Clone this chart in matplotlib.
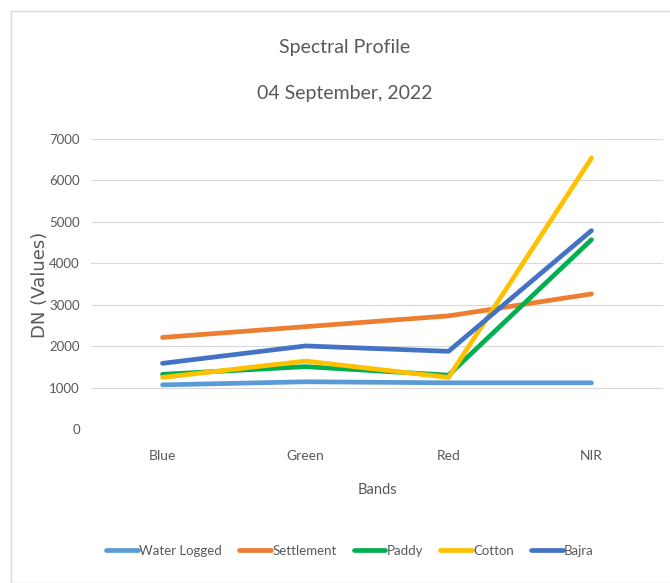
import numpy as np
import matplotlib.pyplot as plt
from matplotlib.patches import Rectangle

# Data
bands = ['Blue', 'Green', 'Red', 'NIR']
water_logged = [1065, 1140, 1115, 1115]
settlement = [2210, 2470, 2730, 3260]
paddy = [1320, 1505, 1300, 4570]
cotton = [1245, 1640, 1245, 6540]
bajra = [1585, 2005, 1875, 4790]

series = ['Water Logged', 'Settlement', 'Paddy', 'Cotton', 'Bajra']
values = [water_logged, settlement, paddy, cotton, bajra]
colors = ['#5B9BD5', '#ED7D31', '#00B050', '#FFC000', '#4472C4']

W, H = 670, 583
font = 'Lato'
grey = '#595959'

fig = plt.figure(figsize=(W/100, H/100), dpi=100)
ax = fig.add_axes([91/W, 1-429/H, (663-91)/W, (429-139)/H])

x = np.arange(len(bands))
for name, vals, c in zip(series, values, colors):
    ax.plot(x, vals, color=c, linewidth=3.4, solid_capstyle='round',
            solid_joinstyle='round', label=name)

ax.set_xlim(-0.5, 3.5)
ax.set_ylim(0, 7000)
ax.set_yticks(np.arange(0, 7001, 1000))
ax.set_xticks(x)
ax.set_xticklabels(bands)
ax.grid(axis='y', color='#D9D9D9', linewidth=0.8)
ax.set_axisbelow(True)
for s in ax.spines.values():
    s.set_visible(False)
ax.tick_params(axis='y', length=0, pad=8, labelsize=9.5, labelcolor=grey)
ax.tick_params(axis='x', length=0, pad=15, labelsize=10, labelcolor=grey)
for lab in ax.get_xticklabels() + ax.get_yticklabels():
    lab.set_family(font)

# titles and axis labels
fig.text(345/W, 1-48/H, 'Spectral Profile', ha='center', va='center',
         fontsize=14, color=grey, family=font)
fig.text(345/W, 1-93/H, '04 September, 2022', ha='center', va='center',
         fontsize=14, color=grey, family=font)
fig.text(377/W, 1-490/H, 'Bands', ha='center', va='center',
         fontsize=10.5, color=grey, family=font)
fig.text(40/W, 1-285/H, 'DN (Values)', ha='center', va='center',
         rotation=90, fontsize=13, color=grey, family='DejaVu Sans')

leg = fig.legend(loc='center', bbox_to_anchor=(350/W, 1-551/H), ncol=5,
                 frameon=False, handlelength=2.4, handletextpad=0.1,
                 columnspacing=1.3, prop={'family': font, 'size': 9.5})
for t in leg.get_texts():
    t.set_color(grey)
for h in leg.legend_handles:
    h.set_linewidth(3.4)

# chart border
fig.patches.append(Rectangle((11/W, 0.5/H), 1, 1-11.5/H, transform=fig.transFigure,
                             fill=False, edgecolor='#D9D9D9', linewidth=1))

fig.savefig('out.png', dpi=100, facecolor='white')
